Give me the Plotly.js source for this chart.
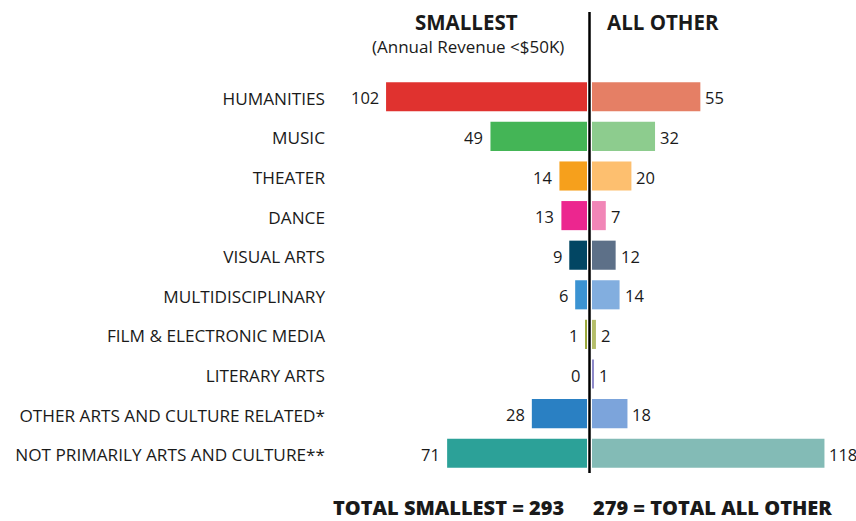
<!DOCTYPE html>
<html>
<head>
<meta charset="utf-8">
<script src="https://cdn.plot.ly/plotly-3.0.1.min.js"></script>
<style>
  html, body { margin: 0; padding: 0; background: #fff; }
  #chart { width: 856px; height: 521px; }
</style>
</head>
<body>
<div id="chart"></div>
<script>
const categories = [
  "HUMANITIES", "MUSIC", "THEATER", "DANCE", "VISUAL ARTS",
  "MULTIDISCIPLINARY", "FILM & ELECTRONIC MEDIA", "LITERARY ARTS",
  "OTHER ARTS AND CULTURE RELATED*", "NOT PRIMARILY ARTS AND CULTURE**"
];
const smallest = [102, 49, 14, 13, 9, 6, 1, 0, 28, 71];
const allOther = [55, 32, 20, 7, 12, 14, 2, 1, 18, 118];
const smallestColors = ["#E0322F", "#44B556", "#F6A01C", "#EC268F", "#024663",
  "#3B93D2", "#9AA83A", "#8B86C4", "#2A80C3", "#2CA198"];
const allOtherColors = ["#E57F65", "#8DCC8E", "#FDBF6F", "#F186B7", "#5D7088",
  "#82AEDF", "#B5BE6A", "#8D89C9", "#7CA4DB", "#83BBB6"];
const headerLeft = "SMALLEST";
const headerLeftSub = "(Annual Revenue <$50K)";
const headerRight = "ALL OTHER";
const totalSmallest = smallest.reduce((a, b) => a + b, 0);
const totalAllOther = allOther.reduce((a, b) => a + b, 0);

const W = 856, H = 521;
const FONT = "'Open Sans', Lato, sans-serif";
const mt = 77, mb = 48;
const plotH = H - mt - mb;
const py = (p) => (H - mb - p) / plotH;   // pixel y -> paper y
const px = (p) => p / W;                   // pixel x -> paper x
const scale = 1.97;                        // px per unit

const traces = [
  {
    type: "bar", orientation: "h",
    y: categories, x: smallest,
    xaxis: "x", yaxis: "y",
    marker: { color: smallestColors },
    width: 0.735,
    hoverinfo: "skip"
  },
  {
    type: "bar", orientation: "h",
    y: categories, x: allOther,
    xaxis: "x2", yaxis: "y",
    marker: { color: allOtherColors },
    width: 0.735,
    hoverinfo: "skip"
  }
];

const leftStart = 330, leftEnd = 587, rightStart = 592;
const valueFont = { family: FONT, size: 16.5, color: "#1a1a1a" };

const valueAnnotations = [];
categories.forEach((c, i) => {
  valueAnnotations.push({
    xref: "x", yref: "y", x: smallest[i], y: c,
    xanchor: "right", yanchor: "middle", xshift: -5, yshift: -1,
    text: String(smallest[i]), showarrow: false, font: valueFont
  });
  valueAnnotations.push({
    xref: "x2", yref: "y", x: allOther[i], y: c,
    xanchor: "left", yanchor: "middle", xshift: 3, yshift: -1,
    text: String(allOther[i]), showarrow: false, font: valueFont
  });
});

const layout = {
  width: W, height: H,
  margin: { l: 0, r: 0, t: mt, b: mb, pad: 0 },
  paper_bgcolor: "#fff", plot_bgcolor: "#fff",
  showlegend: false,
  font: { family: FONT, color: "#1a1a1a" },
  xaxis: {
    domain: [px(leftStart), px(leftEnd)],
    range: [(leftEnd - leftStart) / scale, 0],
    showgrid: false, zeroline: false, showticklabels: false, showline: false,
    anchor: "y", fixedrange: true
  },
  xaxis2: {
    domain: [px(rightStart), 1],
    range: [0, (W - rightStart) / scale],
    showgrid: false, zeroline: false, showticklabels: false, showline: false,
    anchor: "y", fixedrange: true
  },
  yaxis: {
    type: "category",
    categoryorder: "array", categoryarray: categories,
    range: [categories.length - 0.5, -0.5],
    showgrid: false, zeroline: false, showline: false,
    ticks: "", ticklabelstandoff: 4, ticklabelshift: -2,
    tickfont: { family: FONT, size: 17.2, color: "#1a1a1a" },
    anchor: "x", fixedrange: true
  },
  shapes: [
    {
      type: "line", xref: "paper", yref: "paper",
      x0: px(589.5), x1: px(589.5), y0: 0, y1: py(12),
      line: { color: "#000", width: 2.5 }
    }
  ],
  annotations: [
    { xref: "paper", yref: "paper", x: px(466.5), y: py(22), xanchor: "center", yanchor: "middle",
      text: "<b>" + headerLeft + "</b>", showarrow: false,
      font: { family: FONT, size: 20.5, color: "#1a1a1a" } },
    { xref: "paper", yref: "paper", x: px(467.5), y: py(46), xanchor: "center", yanchor: "middle",
      text: headerLeftSub, showarrow: false,
      font: { family: FONT, size: 17, color: "#1a1a1a" } },
    { xref: "paper", yref: "paper", x: px(663), y: py(22), xanchor: "center", yanchor: "middle",
      text: "<b>" + headerRight + "</b>", showarrow: false,
      font: { family: FONT, size: 20.5, color: "#1a1a1a" } },
    { xref: "paper", yref: "paper", x: px(566), y: py(507), xanchor: "right", yanchor: "middle",
      text: "TOTAL SMALLEST = " + totalSmallest, showarrow: false,
      font: { family: FONT, size: 20, weight: 800, color: "#1a1a1a" } },
    { xref: "paper", yref: "paper", x: px(591), y: py(507), xanchor: "left", yanchor: "middle",
      text: totalAllOther + " = TOTAL ALL OTHER", showarrow: false,
      font: { family: FONT, size: 20, weight: 800, color: "#1a1a1a" } }
  ].concat(valueAnnotations)
};

Plotly.newPlot("chart", traces, layout, { displayModeBar: false, staticPlot: true });
</script>
</body>
</html>
